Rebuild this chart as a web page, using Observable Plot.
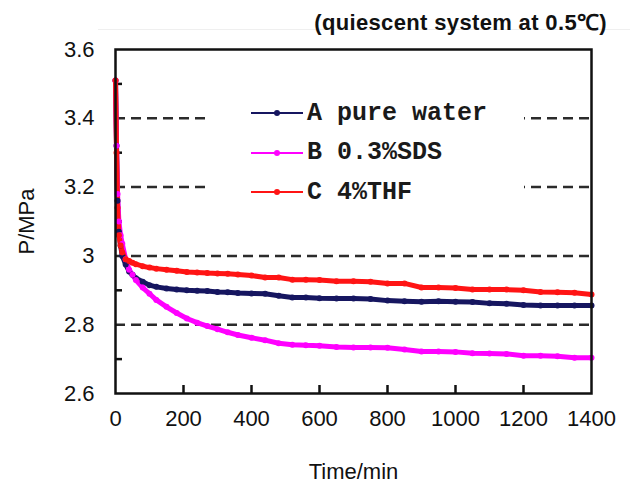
<!DOCTYPE html>
<html>
<head>
<meta charset="utf-8">
<script src="https://cdn.jsdelivr.net/npm/d3@7"></script>
<script src="https://cdn.jsdelivr.net/npm/@observablehq/plot@0.6"></script>
<style>
  body { margin: 0; background: #fff; }
  #wrap { position: relative; width: 630px; height: 484px; font-family: "Liberation Sans", Arial, sans-serif; }
  #wrap > svg { position: absolute; left: 0; top: 0; }
  #rule { position: absolute; left: 98px; right: 0; top: 29px; height: 1px; background: #efefef; }
  #title { position: absolute; right: 23px; top: 6px; font-weight: bold; font-size: 22px; letter-spacing: 0.35px; color: #111; white-space: nowrap; }
  #legend { position: absolute; left: 206px; top: 96px; width: 318px; height: 112px; background: #fff;
            font-family: "Liberation Mono", "DejaVu Sans Mono", monospace; font-weight: bold; font-size: 25px; color: #1a1a1a; }
  #legend .row { position: absolute; left: 45px; height: 30px; display: flex; align-items: center; white-space: pre; }
  #legend .row svg { display: block; margin-right: 4px; }
</style>
</head>
<body>
<div id="wrap">
  <div id="rule"></div>
  <div id="title">(quiescent system at 0.5℃)</div>
</div>
<script>
// Pressure (MPa) against time (min) for three quiescent systems at 0.5 °C
const time = [0, 3, 6, 10, 15, 20, 30, 40, 50, 60, 80, 100, 120,
  150, 180, 210, 240, 270, 300, 330, 360,
  400, 440, 480, 520, 560, 600,
  650, 700, 750, 800, 850, 900, 950, 1000, 1050, 1100, 1150, 1200, 1250, 1300, 1350, 1400];

const pureWater = [3.51, 3.32, 3.16, 3.07, 3.03, 3.00, 2.975, 2.955, 2.945, 2.935, 2.925, 2.915, 2.91,
  2.905, 2.902, 2.90, 2.899, 2.898, 2.895, 2.894, 2.892,
  2.891, 2.89, 2.884, 2.879, 2.879, 2.877,
  2.876, 2.876, 2.875, 2.87, 2.868, 2.867, 2.868, 2.867, 2.866, 2.862, 2.861, 2.857, 2.856, 2.856, 2.856, 2.856];

const sds = [3.51, 3.32, 3.18, 3.10, 3.06, 3.035, 2.99, 2.96, 2.945, 2.93, 2.908, 2.89, 2.872,
  2.852, 2.834, 2.818, 2.806, 2.796, 2.787, 2.778, 2.77,
  2.762, 2.755, 2.746, 2.742, 2.74, 2.739,
  2.735, 2.734, 2.734, 2.733, 2.728, 2.722, 2.722, 2.721, 2.717, 2.716, 2.715, 2.71, 2.71, 2.708, 2.704, 2.704];

const thf = [3.51, 3.30, 3.14, 3.06, 3.03, 3.01, 2.99, 2.985, 2.98, 2.976, 2.97, 2.966, 2.963,
  2.96, 2.957, 2.953, 2.952, 2.95, 2.949, 2.948, 2.946,
  2.943, 2.937, 2.937, 2.931, 2.931, 2.93,
  2.926, 2.926, 2.925, 2.92, 2.92, 2.908, 2.908, 2.907, 2.902, 2.902, 2.902, 2.90, 2.895, 2.894, 2.893, 2.888];

const seriesNames = ["A pure water", "B 0.3%SDS", "C 4%THF"];
const seriesColors = ["#161660", "#ff00ff", "#ff1414"];
const seriesValues = [pureWater, sds, thf];

const xTicks = [0, 200, 400, 600, 800, 1000, 1200, 1400];
const xInnerTicks = [200, 400, 600, 800, 1000, 1200];
const yTicks = [3.6, 3.4, 3.2, 3.0, 2.8, 2.6];
const yMinorTicks = [3.5, 3.3, 3.1, 2.9, 2.7];
const gridValues = [3.4, 3.2, 3.0, 2.8];

const rows = seriesNames.flatMap((name, s) =>
  time.map((t, i) => ({series: name, time: t, pressure: seriesValues[s][i]})));

const W = 630, H = 484;
const margin = {top: 49, right: 39, bottom: 91, left: 115};
const frameW = W - margin.left - margin.right;
const frameH = H - margin.top - margin.bottom;

const chart = Plot.plot({
  width: W,
  height: H,
  marginLeft: margin.left,
  marginRight: margin.right,
  marginTop: margin.top,
  marginBottom: margin.bottom,
  style: {fontFamily: "'Liberation Sans', Arial, sans-serif", fontSize: "22px", color: "#111", background: "transparent"},
  x: {domain: [0, 1400]},
  y: {domain: [2.6, 3.6]},
  color: {domain: seriesNames, range: seriesColors},
  marks: [
    Plot.ruleY(gridValues, {stroke: "#2b2b2b", strokeWidth: 2.5, strokeDasharray: "10,6"}),
    Plot.axisX({ticks: xTicks, tickSize: 0, tickPadding: 17, tickFormat: d => String(d),
      label: "Time/min", labelAnchor: "center", labelOffset: 85, labelArrow: "none"}),
    Plot.axisY({ticks: yTicks, tickSize: 0, tickPadding: 21, tickFormat: d => String(d),
      label: "P/MPa", labelAnchor: "center", labelOffset: 97, labelArrow: "none"}),
    // short inward ticks: 8px up from the bottom edge, 7px right from the left edge
    Plot.ruleX(xInnerTicks, {x: d => d, insetTop: frameH - 8, stroke: "#111", strokeWidth: 2.5}),
    Plot.ruleY(yMinorTicks, {y: d => d, insetRight: frameW - 7, stroke: "#111", strokeWidth: 2.5}),
    Plot.line(rows, {x: "time", y: "pressure", z: "series", stroke: "series", strokeWidth: 5}),
    Plot.dot(rows, {x: "time", y: "pressure", fill: "series", r: 3}),
    Plot.frame({stroke: "#111", strokeWidth: 2.5})
  ]
});

const wrap = document.getElementById("wrap");
wrap.insertBefore(chart, wrap.firstChild);

// Legend box: white panel that sits over the middle of the dashed grid lines
const legend = document.createElement("div");
legend.id = "legend";
seriesNames.forEach((name, i) => {
  const row = document.createElement("div");
  row.className = "row";
  row.style.top = (2 + i * 39.5) + "px";
  row.innerHTML =
    `<svg width="52" height="10"><line x1="0" y1="5" x2="52" y2="5" stroke="${seriesColors[i]}" stroke-width="2.2"/>` +
    `<circle cx="26" cy="5" r="3" fill="${seriesColors[i]}"/></svg><span>${name}</span>`;
  legend.appendChild(row);
});
wrap.appendChild(legend);
</script>
</body>
</html>
